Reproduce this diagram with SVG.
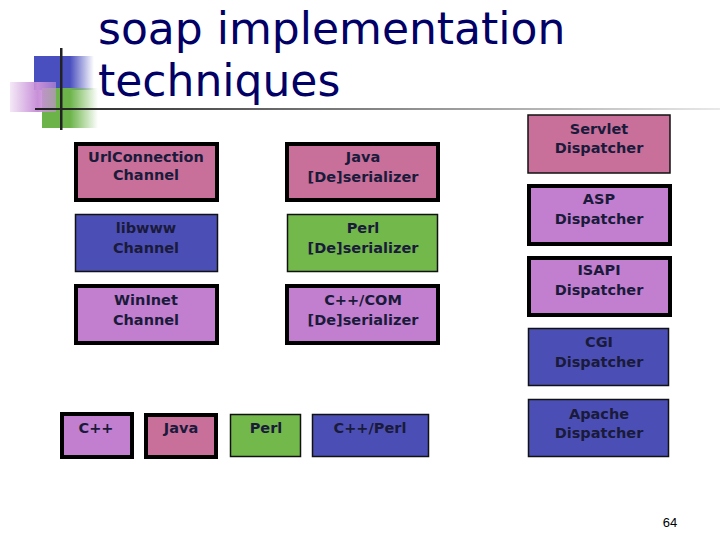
<svg xmlns="http://www.w3.org/2000/svg" width="720" height="540" viewBox="0 0 720 540">
<defs>
<linearGradient id="gb" x1="0" x2="1"><stop offset="0.6" stop-color="#4a4fbf"/><stop offset="1" stop-color="#4a4fbf" stop-opacity="0"/></linearGradient>
<linearGradient id="gp" x1="0" x2="1"><stop offset="0" stop-color="#c890d8" stop-opacity="0.2"/><stop offset="0.6" stop-color="#c890d8"/><stop offset="1" stop-color="#c890d8" stop-opacity="0.6"/></linearGradient>
<linearGradient id="gg" x1="0" x2="1"><stop offset="0.5" stop-color="#6cb44a"/><stop offset="1" stop-color="#6cb44a" stop-opacity="0"/></linearGradient>
<linearGradient id="gl" x1="0" x2="1"><stop offset="0" stop-color="#222"/><stop offset="1" stop-color="#222" stop-opacity="0.1"/></linearGradient>
</defs>
<style>
.t{font-family:"DejaVu Sans",Verdana,sans-serif;font-weight:bold;font-size:14.5px;fill:#1a1a3a;text-anchor:middle}
.pk{fill:#c8709a}.bl{fill:#4b4fb5}.gr{fill:#72b84a}.pu{fill:#c27fd0}
.k{stroke:#000;stroke-width:4}.n{stroke:#111;stroke-width:1.5}
</style>
<g id="logo">
<rect x="34" y="56" width="60" height="34" fill="url(#gb)"/>
<rect x="42" y="88" width="56" height="40" fill="url(#gg)"/>
<rect x="10" y="82" width="46" height="30" fill="url(#gp)"/>
<rect x="35" y="108" width="685" height="2" fill="url(#gl)"/>
<rect x="60" y="48" width="2.5" height="82" fill="#222"/>
</g>
<g id="title" font-family="'DejaVu Sans',Tahoma,sans-serif" font-size="44" fill="#000066">
<text x="98" y="44">soap implementation</text>
<text x="98" y="96">techniques</text>
</g>
<g id="urlconnection"><rect x="76" y="144" width="141" height="56" class="pk k"/><text class="t" x="146" y="162">UrlConnection</text><text class="t" x="146" y="180">Channel</text></g>
<g id="java-deser"><rect x="287" y="144" width="151" height="56" class="pk k"/><text class="t" x="363" y="162">Java</text><text class="t" x="363" y="182">[De]serializer</text></g>
<g id="libwww"><rect x="75.5" y="214.5" width="142" height="57" class="bl n"/><text class="t" x="146" y="233">libwww</text><text class="t" x="146" y="253">Channel</text></g>
<g id="perl-deser"><rect x="287.5" y="214.5" width="150" height="57" class="gr n"/><text class="t" x="363" y="233">Perl</text><text class="t" x="363" y="253">[De]serializer</text></g>
<g id="wininet"><rect x="76" y="286" width="141" height="57" class="pu k"/><text class="t" x="146" y="305">WinInet</text><text class="t" x="146" y="325">Channel</text></g>
<g id="cppcom-deser"><rect x="287" y="286" width="151" height="57" class="pu k"/><text class="t" x="363" y="305">C++/COM</text><text class="t" x="363" y="325">[De]serializer</text></g>
<g id="servlet"><rect x="528" y="115" width="142" height="58" class="pk n" stroke-width="2"/><text class="t" x="599" y="134">Servlet</text><text class="t" x="599" y="153">Dispatcher</text></g>
<g id="asp"><rect x="529" y="186" width="141" height="58" class="pu k"/><text class="t" x="599" y="204">ASP</text><text class="t" x="599" y="224">Dispatcher</text></g>
<g id="isapi"><rect x="529" y="258" width="141" height="57" class="pu k"/><text class="t" x="599" y="275">ISAPI</text><text class="t" x="599" y="295">Dispatcher</text></g>
<g id="cgi"><rect x="528.5" y="328.5" width="140" height="57" class="bl n"/><text class="t" x="599" y="347">CGI</text><text class="t" x="599" y="367">Dispatcher</text></g>
<g id="apache"><rect x="528.5" y="399.5" width="140" height="57" class="bl n"/><text class="t" x="599" y="419">Apache</text><text class="t" x="599" y="438">Dispatcher</text></g>
<g id="cpp"><rect x="62" y="414" width="70" height="43" class="pu k"/><text class="t" x="96" y="433">C++</text></g>
<g id="java"><rect x="146" y="415" width="70" height="42" class="pk k"/><text class="t" x="181" y="433">Java</text></g>
<g id="perl"><rect x="230.5" y="414.5" width="70" height="42" class="gr n"/><text class="t" x="266" y="433">Perl</text></g>
<g id="cppperl"><rect x="312.5" y="414.5" width="116" height="42" class="bl n"/><text class="t" x="370" y="433">C++/Perl</text></g>
<g id="connectors"/>
<text x="670" y="527" font-family="'Liberation Sans',Arial,sans-serif" font-size="13" fill="#000" text-anchor="middle">64</text>
</svg>
